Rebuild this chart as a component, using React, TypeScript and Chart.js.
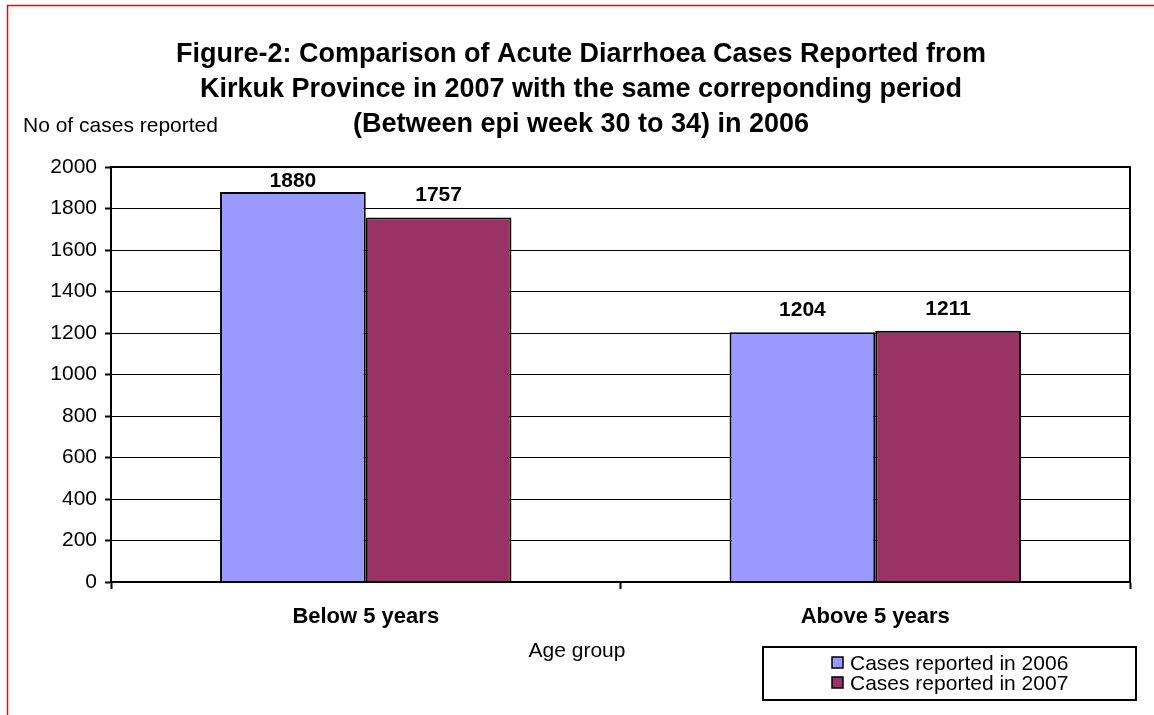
import React, { useEffect, useRef } from "react";
import { Chart, registerables } from "chart.js";

Chart.register(...registerables);

const categories = ["Below 5 years", "Above 5 years"];
const cases2006 = [1880, 1204];
const cases2007 = [1757, 1211];
const seriesNames = ["Cases reported in 2006", "Cases reported in 2007"];
const titleLines = [
  "Figure-2: Comparison of Acute Diarrhoea Cases Reported from",
  "Kirkuk Province in 2007 with the same correponding period",
  "(Between epi week 30 to 34) in 2006",
];
const yAxisLabel = "No of cases reported";
const xAxisLabel = "Age group";
const colors = ["#9999FF", "#993366"];

const FONT = "Arial, 'Liberation Sans', sans-serif";

const decorPlugin = {
  id: "decor",
  afterDraw(chart: any) {
    const ctx = chart.ctx as CanvasRenderingContext2D;
    const ca = chart.chartArea;
    ctx.save();
    // red outer border
    ctx.strokeStyle = "#ff0000";
    ctx.lineWidth = 1.5;
    ctx.beginPath();
    ctx.moveTo(7.5, 715);
    ctx.lineTo(7.5, 5.5);
    ctx.lineTo(1154, 5.5);
    ctx.stroke();

    // plot frame
    ctx.strokeStyle = "#000";
    ctx.lineWidth = 2;
    ctx.strokeRect(ca.left, ca.top, ca.right - ca.left, ca.bottom - ca.top);

    // title
    ctx.fillStyle = "#000";
    ctx.font = `bold 27px ${FONT}`;
    ctx.textAlign = "center";
    ctx.textBaseline = "alphabetic";
    titleLines.forEach((l, i) => ctx.fillText(l, 581, 62 + i * 35));

    // y axis label
    ctx.font = `21px ${FONT}`;
    ctx.textAlign = "left";
    ctx.fillText(yAxisLabel, 23, 132);

    // x axis label
    ctx.textAlign = "center";
    ctx.fillText(xAxisLabel, 577, 657);

    // data labels (kept inside the plot area)
    ctx.font = `bold 21px ${FONT}`;
    chart.data.datasets.forEach((ds: any, di: number) => {
      const meta = chart.getDatasetMeta(di);
      meta.data.forEach((bar: any, i: number) => {
        const base = Math.max(bar.y - 16, ca.top + 20);
        ctx.fillText(String(ds.data[i]), bar.x, base);
      });
    });

    // legend
    ctx.lineWidth = 2;
    ctx.strokeRect(763, 647, 373, 53);
    ctx.font = `21px ${FONT}`;
    ctx.textAlign = "left";
    seriesNames.forEach((n, i) => {
      const base = 670 + i * 20;
      ctx.fillStyle = colors[i];
      ctx.fillRect(832, base - 13, 11, 11);
      ctx.strokeStyle = "#000";
      ctx.lineWidth = 1.5;
      ctx.strokeRect(832, base - 13, 11, 11);
      ctx.fillStyle = "#000";
      ctx.fillText(n, 850, base);
    });
    ctx.restore();
  },
};

export default function App() {
  const ref = useRef<HTMLCanvasElement>(null);
  useEffect(() => {
    const chart = new Chart(ref.current!, {
      type: "bar",
      data: {
        labels: categories,
        datasets: [
          {
            label: seriesNames[0],
            data: cases2006,
            backgroundColor: colors[0],
            borderColor: "#000",
            borderWidth: 2,
            categoryPercentage: 0.572,
            barPercentage: 1.0,
          },
          {
            label: seriesNames[1],
            data: cases2007,
            backgroundColor: colors[1],
            borderColor: "#000",
            borderWidth: 2,
            categoryPercentage: 0.572,
            barPercentage: 1.0,
          },
        ],
      },
      options: {
        responsive: false,
        animation: false,
        layout: { padding: { top: 167, right: 24, left: 0, bottom: 0 } },
        plugins: {
          legend: { display: false },
          tooltip: { enabled: false },
          title: { display: false },
        },
        scales: {
          x: {
            offset: true,
            grid: {
              offset: true,
              drawOnChartArea: false,
              drawTicks: true,
              tickLength: 7,
              tickColor: "#000",
              tickWidth: 2,
            },
            border: { color: "#000", width: 2 },
            ticks: {
              color: "#000",
              font: { family: FONT, size: 22, weight: "bold" },
              padding: 15,
            },
            afterFit: (s: any) => {
              s.height = 133;
            },
          },
          y: {
            min: 0,
            max: 2000,
            ticks: {
              stepSize: 200,
              color: "#000",
              font: { family: FONT, size: 21 },
              padding: 8,
              callback: (v: any) => String(v),
            },
            grid: {
              color: "#000",
              lineWidth: 1,
              tickLength: 6,
              tickColor: "#000",
              tickWidth: 2,
            },
            border: { color: "#000", width: 2 },
            afterFit: (s: any) => {
              s.width = 111;
            },
          },
        },
      },
      plugins: [decorPlugin],
    });
    return () => chart.destroy();
  }, []);
  return (
    <div style={{ position: "absolute", left: 0, top: 0, width: 1154, height: 715, background: "#fff" }}>
      <canvas ref={ref} width={1154} height={715} style={{ display: "block" }} />
    </div>
  );
}
